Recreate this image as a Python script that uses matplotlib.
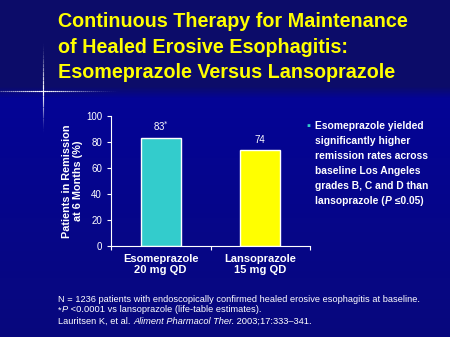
import numpy as np
import matplotlib
matplotlib.use("Agg")
import matplotlib.pyplot as plt

plt.rcParams['font.family'] = ['Liberation Sans', 'DejaVu Sans']

# data
drugs = ["Esomeprazole\n20 mg QD", "Lansoprazole\n15 mg QD"]
remission = [83, 74]
value_labels = ["83$^{*}$", "74"]
bar_colors = ["#33CCCC", "#FFFF00"]
y_ticks = [0, 20, 40, 60, 80, 100]

title = ("Continuous Therapy for Maintenance\n"
         "of Healed Erosive Esophagitis:\n"
         "Esomeprazole Versus Lansoprazole")
bullet = ("Esomeprazole yielded\nsignificantly higher\nremission rates across\n"
          "baseline Los Angeles\ngrades B, C and D than")

W, H = 450, 337
fig = plt.figure(figsize=(W / 100, H / 100), dpi=100)

# background gradient
bg = fig.add_axes([0, 0, 1, 1])
bg.set_xlim(0, W)
bg.set_ylim(H, 0)
bg.axis("off")
top = np.array([12, 12, 105]) / 255
mid = np.array([4, 4, 150]) / 255
bot = np.array([8, 8, 125]) / 255
grad = np.zeros((H, 1, 3))
for i in range(H):
    y = i
    if y < 86:
        c = top
    elif y < 98:
        c = top + (mid - top) * (y - 86) / 12
    else:
        c = mid + (bot - mid) * (y - 98) / (H - 98)
    grad[i, 0] = c
bg.imshow(grad, aspect="auto", extent=[0, W, H, 0], zorder=0)

# lens flare cross
fx, fy = 43, 91
for k in range(40):
    a = 0.9 * (1 - k / 40) ** 2
    bg.plot([fx - 2 * k - 2, fx - 2 * k], [fy, fy], color="white", alpha=a, lw=0.8)
    bg.plot([fx + 2 * k, fx + 2 * k + 2], [fy, fy], color="white", alpha=a, lw=0.8)
    bg.plot([fx, fx], [fy - 1.3 * k - 1.3, fy - 1.3 * k], color="white", alpha=a, lw=0.8)
    bg.plot([fx, fx], [fy + 1.1 * k, fy + 1.1 * k + 1.1], color="white", alpha=a, lw=0.8)

# title
fig.text(58 / W, 1 - 12 / H, title, color="#FFFF00", fontsize=14.2, fontweight="bold",
         va="top", ha="left", linespacing=1.45)

# bar chart
ax = fig.add_axes([111 / W, 1 - 246 / H, (310 - 111) / W, (246 - 116) / H])
ax.patch.set_alpha(0)
x = np.arange(len(drugs)) + 0.5
bars = ax.bar(x, remission, width=0.4, color=bar_colors, edgecolor="white", linewidth=1)
for xi, v, lab in zip(x, remission, value_labels):
    ax.text(xi, v + 4, lab, color="white", fontsize=7, ha="center", va="bottom")
ax.set_xlim(0, 2)
ax.set_ylim(0, 100)
ax.set_yticks(y_ticks)
ax.set_xticks([0, 1, 2])
ax.set_xticklabels([])
ax.tick_params(colors="white", labelsize=7, length=3, width=0.8, direction="out")
for xi, lab in zip(x, drugs):
    ax.text(xi, -0.06, lab, color="white", fontsize=8, fontweight="bold",
            ha="center", va="top", transform=ax.get_xaxis_transform(), linespacing=1.2)
for s in ["top", "right"]:
    ax.spines[s].set_visible(False)
for s in ["left", "bottom"]:
    ax.spines[s].set_color("white")
    ax.spines[s].set_linewidth(0.8)
ax.set_ylabel("Patients in Remission\nat 6 Months (%)", color="white", fontsize=7.8,
              fontweight="bold", labelpad=2, linespacing=1.1)

# bullet note
fig.text(306 / W, 1 - 126 / H, "\u25aa", color="#33CCCC", fontsize=8, va="center")
bt = fig.text(315 / W, 1 - 121 / H, bullet, color="white", fontsize=7.4, fontweight="bold",
              va="top", ha="left", linespacing=1.61)
p0 = fig.text(315 / W, 1 - 204 / H, "lansoprazole (", color="white", fontsize=7.4,
              fontweight="bold", va="baseline", ha="left")
p1 = ax.annotate("P", xy=(1, 0), xycoords=p0, color="white", fontsize=7.4,
                 fontweight="bold", style="italic", va="bottom", ha="left",
                 annotation_clip=False)
ax.annotate(" \u22640.05)", xy=(1, 0), xycoords=p1, color="white", fontsize=7.4,
            fontweight="bold", va="bottom", ha="left", annotation_clip=False)

# footnotes
fs = 6.7
fig.text(58 / W, 1 - 299 / H,
         "N = 1236 patients with endoscopically confirmed healed erosive esophagitis at baseline.",
         color="white", fontsize=fs, va="center")
a = fig.text(58 / W, 1 - 310 / H, "*", color="white", fontsize=fs, va="center")
b = ax.annotate("P", xy=(1, 0), xycoords=a, color="white", fontsize=fs, style="italic",
                va="bottom", ha="left", annotation_clip=False)
ax.annotate(" <0.0001 vs lansoprazole (life-table estimates).", xy=(1, 0), xycoords=b,
            color="white", fontsize=fs, va="bottom", ha="left", annotation_clip=False)
c = fig.text(58 / W, 1 - 321 / H, "Lauritsen K, et al. ", color="white", fontsize=fs,
             va="center")
d = ax.annotate("Aliment Pharmacol Ther.", xy=(1, 0), xycoords=c, color="white",
                fontsize=fs, style="italic", va="bottom", ha="left", annotation_clip=False)
ax.annotate(" 2003;17:333\u2013341.", xy=(1, 0), xycoords=d, color="white", fontsize=fs,
            va="bottom", ha="left", annotation_clip=False)

fig.savefig("out.png", dpi=100)
